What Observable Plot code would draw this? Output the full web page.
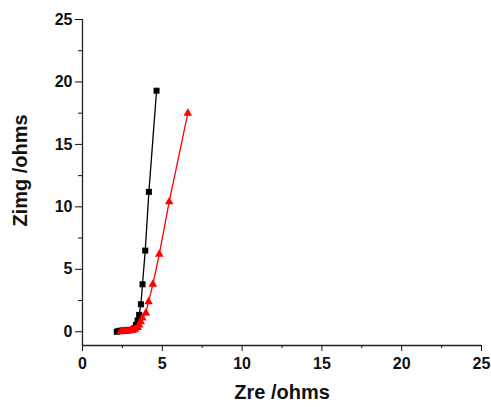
<!DOCTYPE html>
<html>
<head>
<meta charset="utf-8">
<script src="https://cdn.jsdelivr.net/npm/d3@7"></script>
<script src="https://cdn.jsdelivr.net/npm/@observablehq/plot@0.6"></script>
<style>
  html, body { margin: 0; padding: 0; background: #fff; }
</style>
</head>
<body>
<div id="chart"></div>
<script>
const blackZre  = [2.15, 2.25, 2.35, 2.5, 2.65, 2.8, 2.95, 3.1, 3.25, 3.35, 3.45, 3.55, 3.66, 3.76, 3.93, 4.16, 4.64];
const blackZimg = [0.0, 0.05, 0.08, 0.1, 0.1, 0.1, 0.12, 0.15, 0.3, 0.55, 0.9, 1.35, 2.2, 3.8, 6.5, 11.2, 19.3];
const redZre  = [2.4, 2.55, 2.7, 2.85, 3.0, 3.15, 3.3, 3.45, 3.55, 3.65, 3.75, 3.97, 4.14, 4.41, 4.81, 5.43, 6.6];
const redZimg = [0.0, 0.05, 0.05, 0.08, 0.1, 0.12, 0.2, 0.35, 0.55, 0.8, 1.1, 1.5, 2.4, 3.8, 6.2, 10.4, 17.5];
const majorTicks = [0, 5, 10, 15, 20, 25];
const minorTicks = [2.5, 7.5, 12.5, 17.5, 22.5];
const xLabel = "Zre /ohms";
const yLabel = "Zimg /ohms";

const black = blackZre.map((x, i) => ({x, y: blackZimg[i]}));
const red = redZre.map((x, i) => ({x, y: redZimg[i]}));

const chart = Plot.plot({
  width: 491,
  height: 407,
  marginLeft: 82,
  marginRight: 10,
  marginTop: 19,
  marginBottom: 62,
  style: {fontFamily: "'Liberation Sans', Arial, sans-serif", fontWeight: "bold", fontSize: "15px", color: "#111", background: "#fff"},
  x: {domain: [0, 25], axis: null},
  y: {domain: [-1.1, 25], axis: null},
  marks: [
    Plot.ruleX([0], {stroke: "#222", strokeWidth: 1.3}),
    Plot.ruleY([-1.1], {stroke: "#222", strokeWidth: 1.3}),
    Plot.axisX({ticks: majorTicks, tickSize: 6, tickPadding: 6, label: null, tickFormat: d => d, fontSize: 16}),
    Plot.axisX({ticks: minorTicks, tickSize: 3, label: null, tickFormat: () => ""}),
    Plot.axisY({ticks: majorTicks, tickSize: 7, tickPadding: 3, label: null, tickFormat: d => d, fontSize: 16}),
    Plot.axisY({ticks: minorTicks, tickSize: 4, label: null, tickFormat: () => ""}),
    Plot.line(black, {x: "x", y: "y", stroke: "#000", strokeWidth: 1.3}),
    Plot.dot(black, {x: "x", y: "y", symbol: "square", r: 3.4, fill: "#000", stroke: "none"}),
    Plot.line(red, {x: "x", y: "y", stroke: "#f00", strokeWidth: 1.3}),
    Plot.dot(red, {x: "x", y: "y", symbol: "triangle", r: 3.2, fill: "#f00", stroke: "none"}),
    Plot.text([xLabel], {frameAnchor: "bottom", dy: 53, fontSize: 20, fontWeight: "bold", fill: "#111"}),
    Plot.text([yLabel], {frameAnchor: "left", textAnchor: "middle", rotate: -90, dx: -62, dy: -12, fontSize: 20, fontWeight: "bold", fill: "#111"})
  ]
});
document.getElementById("chart").appendChild(chart);
</script>
</body>
</html>
